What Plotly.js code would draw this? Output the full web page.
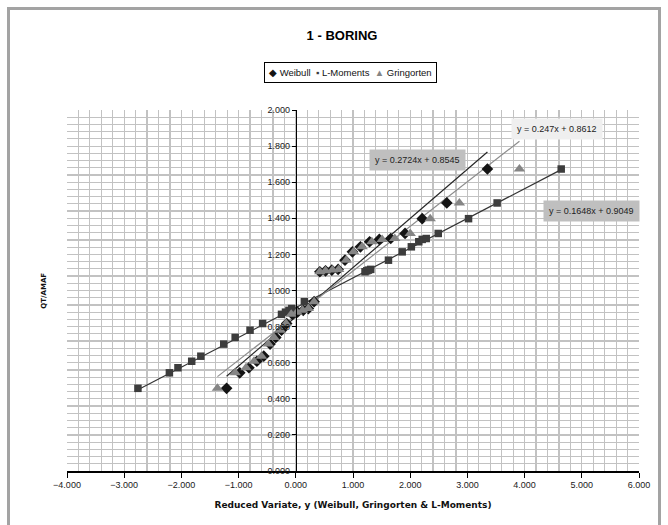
<!DOCTYPE html>
<html>
<head>
<meta charset="utf-8">
<script src="https://cdn.plot.ly/plotly-3.0.1.min.js"></script>
<style>
  html, body { margin: 0; padding: 0; background: #fff; }
  #wrap { position: relative; width: 668px; height: 525px; overflow: hidden; }
  #chart { width: 668px; height: 525px; }
  #frame { position: absolute; left: 7px; top: 7px; width: 648px; height: 560px;
           border: 3px solid #a3a3a3; pointer-events: none; }
</style>
</head>
<body>
<div id="wrap">
  <div id="chart"></div>
  <div id="frame"></div>
</div>
<script>
// ---- data ----
const qtAmaf = [0.458, 0.544, 0.572, 0.608, 0.636, 0.703, 0.740, 0.780, 0.817, 0.868,
                0.880, 0.890, 0.900, 0.938, 1.104, 1.109, 1.113, 1.117, 1.168, 1.214,
                1.242, 1.270, 1.283, 1.288, 1.316, 1.398, 1.485, 1.673];
const weibullX = [-1.21, -0.98, -0.82, -0.68, -0.56, -0.45, -0.35, -0.25, -0.16, -0.06,
                  0.03, 0.13, 0.22, 0.32, 0.42, 0.52, 0.63, 0.74, 0.86, 0.99,
                  1.13, 1.29, 1.46, 1.66, 1.91, 2.21, 2.64, 3.35];
const gringortenX = [-1.37, -1.06, -0.87, -0.73, -0.60, -0.48, -0.38, -0.27, -0.17, -0.08,
                     0.02, 0.12, 0.22, 0.32, 0.42, 0.52, 0.64, 0.75, 0.88, 1.01,
                     1.16, 1.33, 1.51, 1.73, 2.00, 2.35, 2.86, 3.91];
const lMomentsX = [-2.76, -2.21, -2.06, -1.82, -1.66, -1.26, -1.06, -0.80, -0.58, -0.25,
                   -0.18, -0.12, -0.07, 0.15, 1.21, 1.24, 1.27, 1.31, 1.62, 1.86,
                   2.02, 2.15, 2.21, 2.28, 2.49, 3.02, 3.52, 4.64];
const seriesNames = ['Weibull', 'L-Moments', 'Gringorten'];
const legendGlyphs = ['\u25C6', '\u25AA', '\u25B2'];
const trendSlopes = [0.2724, 0.1648, 0.247];
const trendIntercepts = [0.8545, 0.9049, 0.8612];
const trendLabels = ['y = 0.2724x + 0.8545', 'y = 0.1648x + 0.9049', 'y = 0.247x + 0.8612'];
const xTickVals = [-4, -3, -2, -1, 0, 1, 2, 3, 4, 5, 6];
const yTickVals = [0, 0.2, 0.4, 0.6, 0.8, 1.0, 1.2, 1.4, 1.6, 1.8, 2.0];

// ---- styling ----
const seriesX = [weibullX, lMomentsX, gringortenX];
const markerStyle = [
  {symbol: 'diamond', size: 9, color: '#141414'},
  {symbol: 'square', size: 7.5, color: '#3c3c3c'},
  {symbol: 'triangle-up', size: 10, color: '#858585'}
];
const lineStyle = [
  {color: '#262626', width: 1.2},
  {color: '#333333', width: 1.2},
  {color: '#8c8c8c', width: 1.2}
];
const labelPos = [
  {x: 2.13, y: 1.722, bg: '#bfbfbf'},
  {x: 5.17, y: 1.442, bg: '#bfbfbf'},
  {x: 4.56, y: 1.896, bg: '#efefef'}
];

const traces = [];
seriesX.forEach((xs, i) => {
  const x0 = Math.min(...xs), x1 = Math.max(...xs);
  traces.push({
    x: [x0, x1],
    y: [trendSlopes[i] * x0 + trendIntercepts[i], trendSlopes[i] * x1 + trendIntercepts[i]],
    mode: 'lines', line: lineStyle[i], showlegend: false, hoverinfo: 'skip'
  });
});
seriesX.forEach((xs, i) => {
  traces.push({
    x: xs, y: qtAmaf, name: seriesNames[i], mode: 'markers', showlegend: false,
    marker: {symbol: markerStyle[i].symbol, size: markerStyle[i].size, color: markerStyle[i].color,
             line: {width: 0}}
  });
});

const annotations = trendLabels.map((t, i) => ({
  x: labelPos[i].x, y: labelPos[i].y, xref: 'x', yref: 'y', text: t, showarrow: false,
  bgcolor: labelPos[i].bg, borderpad: 5,
  font: {family: 'Liberation Sans, Arial, sans-serif', size: 9, color: '#222'}
}));
// legend box (series names with their marker glyphs)
const legendText = seriesNames.map((n, i) =>
  '<span style="color:' + markerStyle[i].color + '">' + legendGlyphs[i] + '</span> ' + n).join('  ');
annotations.push({
  xref: 'paper', yref: 'paper', x: 0.495, y: 1.1025, xanchor: 'center', yanchor: 'middle',
  text: legendText, showarrow: false, bordercolor: '#000', borderwidth: 1, borderpad: 4,
  bgcolor: '#fff', font: {family: 'Liberation Sans, Arial, sans-serif', size: 9.5, color: '#111'}
});
annotations.push({
  xref: 'paper', yref: 'paper', x: -0.052, y: 0.5, text: '<b>QT/AMAF</b>', textangle: -90,
  showarrow: false, font: {family: 'DejaVu Sans, sans-serif', size: 7, color: '#111'}
});

const gridCol = '#c2c2c2';
const layout = {
  width: 668, height: 525,
  margin: {l: 67, r: 29, t: 110, b: 54},
  paper_bgcolor: '#ffffff', plot_bgcolor: '#ffffff',
  font: {family: 'Liberation Sans, Arial, sans-serif', size: 9, color: '#1a1a1a'},
  title: {
    text: '<b>1 - BORING</b>', x: 0.512, xref: 'container', xanchor: 'center',
    y: 0.933, yref: 'container', yanchor: 'middle',
    font: {family: 'Liberation Sans, Arial, sans-serif', size: 13, color: '#000'}
  },
  showlegend: false,
  xaxis: {
    range: [-4, 6], tickvals: xTickVals, tickformat: '.3f',
    showline: true, linecolor: '#000', linewidth: 1.5, mirror: false,
    ticks: 'outside', ticklen: 5, tickcolor: '#000', tickwidth: 1,
    showgrid: true, gridcolor: gridCol, gridwidth: 1.2, zeroline: false,
    minor: {dtick: 0.2, tick0: 0, showgrid: true, gridcolor: gridCol, gridwidth: 1.2, ticks: ''},
    tickfont: {size: 9, color: '#1a1a1a'},
    title: {text: '<b>Reduced Variate, y (Weibull, Gringorten &amp; L-Moments)</b>', standoff: 12,
            font: {family: 'DejaVu Sans, sans-serif', size: 9, color: '#111'}},
    fixedrange: true
  },
  yaxis: {
    range: [0, 2], tickvals: yTickVals, tickformat: '.3f',
    anchor: 'free', position: 0.4,
    showline: true, linecolor: '#000', linewidth: 1, mirror: false,
    ticks: 'outside', ticklen: 4, tickcolor: '#000', tickwidth: 1,
    showgrid: true, gridcolor: gridCol, gridwidth: 1.2, zeroline: false,
    minor: {dtick: 0.04, tick0: 0, showgrid: true, gridcolor: gridCol, gridwidth: 1.2, ticks: ''},
    tickfont: {size: 9, color: '#1a1a1a'},
    fixedrange: true
  },
  annotations: annotations
};

Plotly.newPlot('chart', traces, layout, {displayModeBar: false, staticPlot: true});
</script>
</body>
</html>
